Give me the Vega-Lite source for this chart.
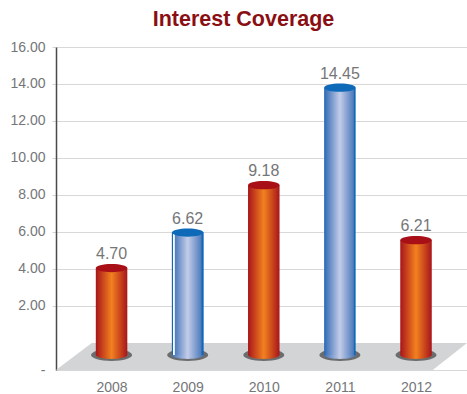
{
  "$schema": "https://vega.github.io/schema/vega-lite/v6.json",
  "width": 411,
  "height": 323,
  "autosize": "none",
  "padding": {"left": 56, "top": 47, "right": 0, "bottom": 24},
  "background": "white",
  "title": {
    "text": "Interest Coverage",
    "font": "Liberation Sans",
    "fontSize": 21.5,
    "fontWeight": "bold",
    "color": "#8a0f14",
    "anchor": "middle",
    "dx": -18,
    "offset": 10
  },
  "view": {"stroke": null},
  "datasets": {
    "coverage": [
      {"year": 2008, "value": 4.70, "group": "red"},
      {"year": 2009, "value": 6.62, "group": "blue"},
      {"year": 2010, "value": 9.18, "group": "red"},
      {"year": 2011, "value": 14.45, "group": "blue"},
      {"year": 2012, "value": 6.21, "group": "red"}
    ],
    "floor": [
      {"level": -1.46, "left": 2007.27, "right": 2012.22},
      {"level": 0, "left": 2007.74, "right": 2012.67}
    ]
  },
  "resolve": {"scale": {"y": "independent"}},
  "encoding": {
    "x": {
      "field": "year",
      "type": "quantitative",
      "scale": {"domain": [2007.27, 2012.67], "nice": false, "zero": false, "padding": 0}
    }
  },
  "layer": [
    {
      "data": {"name": "floor"},
      "mark": {"type": "area", "orient": "horizontal", "color": "#d3d4d5"},
      "encoding": {
        "y": {
          "field": "level",
          "type": "quantitative",
          "scale": {"domain": [-1.46, 16], "nice": false, "zero": false},
          "axis": {
            "title": null,
            "values": [-1.46, 2, 4, 6, 8, 10, 12, 14, 16],
            "labelExpr": "datum.value < 0 ? '-' : format(datum.value, '.2f')",
            "labelFont": "Liberation Sans",
            "labelFontSize": 14,
            "labelColor": "#757678",
            "labelPadding": 7,
            "domainColor": "#4a4a4a",
            "domainWidth": 1.5,
            "tickColor": "#d4d4d4",
            "tickSize": 4,
            "tickOpacity": {"condition": {"test": "datum.value < 0", "value": 0}, "value": 1},
            "gridColor": "#d8d8d8",
            "gridWidth": 1,
            "grid": true,
            "zindex": 0
          }
        },
        "x": {
          "field": "left",
          "type": "quantitative",
          "scale": {"domain": [2007.27, 2012.67], "nice": false, "zero": false, "padding": 0},
          "axis": {
            "title": null,
            "values": [2008, 2009, 2010, 2011, 2012],
            "format": "d",
            "labelFont": "Liberation Sans",
            "labelFontSize": 14,
            "labelColor": "#757678",
            "labelPadding": 10,
            "domain": false,
            "ticks": false,
            "grid": false
          }
        },
        "x2": {"field": "right"}
      }
    },
    {
      "data": {"name": "coverage"},
      "encoding": {
        "y": {
          "field": "value",
          "type": "quantitative",
          "scale": {"domain": [-0.81, 16.65], "nice": false, "zero": false},
          "axis": null
        }
      },
      "layer": [
        {
          "mark": {"type": "point", "filled": true, "opacity": 1, "color": "#6b6c6e", "size": 1681, "shape": "M-1,0A1,0.29 0 1,1 1,0A1,0.29 0 1,1 -1,0Z"},
          "encoding": {"y": {"datum": 0, "type": "quantitative"}}
        },
        {
          "transform": [{"filter": "datum.group === 'red'"}],
          "layer": [
            {
              "mark": {"type": "point", "filled": true, "opacity": 1, "size": 992, "shape": "M-1,0A1,0.25 0 0,0 1,0Z",
                "color": {"gradient": "linear", "x1": 0, "x2": 1, "y1": 0, "y2": 0, "stops": [
                  {"offset": 0, "color": "#a8151a"}, {"offset": 0.5, "color": "#f2811f"}, {"offset": 1, "color": "#a8151a"}]}},
              "encoding": {"y": {"datum": 0, "type": "quantitative"}}
            },
            {
              "mark": {"type": "bar", "size": 31.5,
                "color": {"gradient": "linear", "x1": 0, "x2": 1, "y1": 0, "y2": 0, "stops": [
                  {"offset": 0, "color": "#a8151a"}, {"offset": 0.5, "color": "#f2811f"}, {"offset": 1, "color": "#a8151a"}]}},
              "encoding": {"y2": {"datum": 0}}
            },
            {
              "mark": {"type": "point", "filled": true, "opacity": 1, "color": "#a80f16", "size": 992, "shape": "M-1,0A1,0.26 0 1,1 1,0A1,0.26 0 1,1 -1,0Z"}
            }
          ]
        },
        {
          "transform": [{"filter": "datum.group === 'blue'"}],
          "layer": [
            {
              "mark": {"type": "point", "filled": true, "opacity": 1, "size": 992, "shape": "M-1,0A1,0.25 0 0,0 1,0Z",
                "color": {"gradient": "linear", "x1": 0, "x2": 1, "y1": 0, "y2": 0, "stops": [
                  {"offset": 0, "color": "#3f72b8"}, {"offset": 0.5, "color": "#c3cce8"}, {"offset": 1, "color": "#3f72b8"}]}},
              "encoding": {"y": {"datum": 0, "type": "quantitative"}}
            },
            {
              "mark": {"type": "bar", "size": 31.5,
                "color": {"gradient": "linear", "x1": 0, "x2": 1, "y1": 0, "y2": 0, "stops": [
                  {"offset": 0, "color": "#1268b8"}, {"offset": 0.05, "color": "#3f72b8"}, {"offset": 0.5, "color": "#c3cce8"}, {"offset": 0.93, "color": "#4f7cbd"}, {"offset": 0.95, "color": "#1268b8"}, {"offset": 1, "color": "#1268b8"}]}},
              "encoding": {"y2": {"datum": 0}}
            },
            {
              "transform": [{"filter": "datum.year === 2009"}],
              "mark": {"type": "bar", "size": 31.5,
                "color": {"gradient": "linear", "x1": 0, "x2": 1, "y1": 0, "y2": 0, "stops": [
                  {"offset": 0, "color": "#1268b8"}, {"offset": 0.04, "color": "#1268b8"}, {"offset": 0.05, "color": "#ffffff"}, {"offset": 0.08, "color": "#ffffff"}, {"offset": 0.09, "color": "#4a7abc"}, {"offset": 0.5, "color": "#c3cce8"}, {"offset": 0.93, "color": "#4f7cbd"}, {"offset": 0.95, "color": "#1268b8"}, {"offset": 1, "color": "#1268b8"}]}},
              "encoding": {"y2": {"datum": 0}}
            },
            {
              "mark": {"type": "point", "filled": true, "opacity": 1, "color": "#0f69b9", "size": 992, "shape": "M-1,0A1,0.26 0 1,1 1,0A1,0.26 0 1,1 -1,0Z"}
            }
          ]
        },
        {
          "mark": {"type": "text", "font": "Liberation Sans", "fontSize": 16, "color": "#757678", "dy": -14},
          "encoding": {"text": {"field": "value", "type": "quantitative", "format": ".2f"}}
        }
      ]
    }
  ]
}
